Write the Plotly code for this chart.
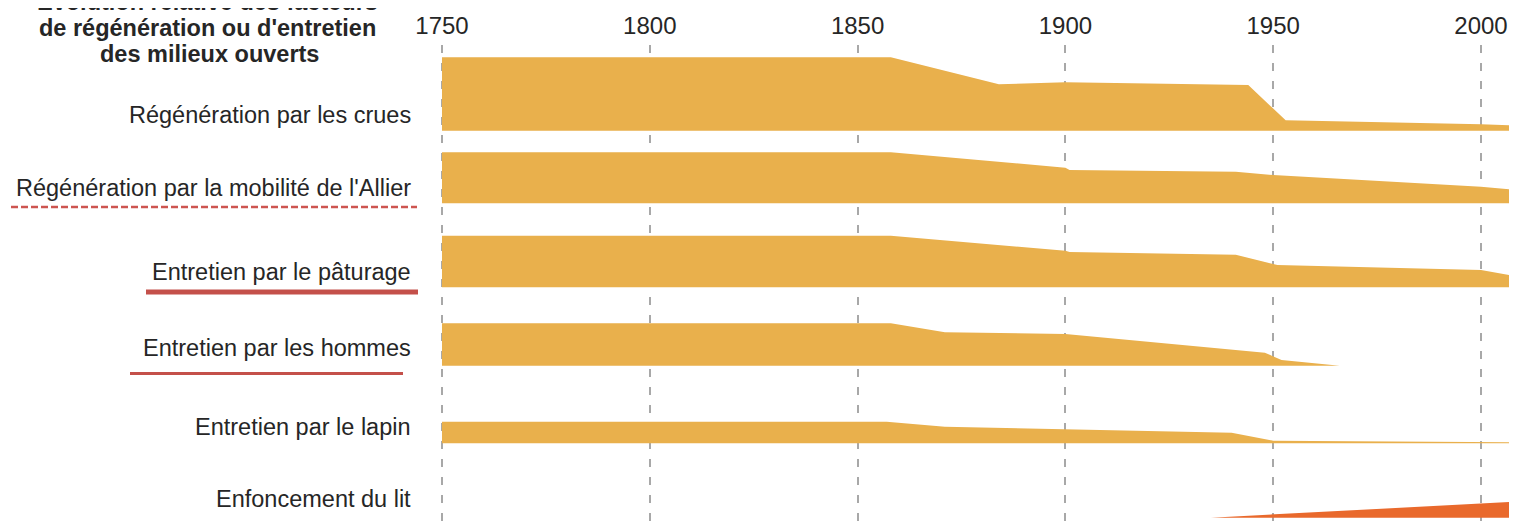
import plotly.graph_objects as go

# ---------------- data ----------------
categories = [
    "Régénération par les crues",
    "Régénération par la mobilité de l'Allier",
    "Entretien par le pâturage",
    "Entretien par les hommes",
    "Entretien par le lapin",
    "Enfoncement du lit",
]

crues_years = [1750, 1858, 1884, 1900, 1944, 1953, 2000, 2009]
crues_vals = [73.4, 73.4, 46.4, 48.4, 45.7, 10.4, 6.4, 5.0]

mobilite_years = [1750, 1858, 1900, 1901, 1941, 1950, 2000, 2009]
mobilite_vals = [51.0, 51.0, 35.6, 33.3, 31.6, 28.3, 16.6, 13.3]

paturage_years = [1750, 1858, 1900, 1901, 1941, 1950, 1951, 2000, 2009]
paturage_vals = [51.6, 51.6, 36.6, 35.3, 32.6, 24.0, 22.3, 17.3, 10.6]

hommes_years = [1750, 1858, 1871, 1900, 1948, 1952, 1966]
hommes_vals = [42.4, 42.4, 33.4, 31.7, 13.0, 5.7, 0.0]

lapin_years = [1750, 1857, 1871, 1900, 1940, 1950, 2000, 2007]
lapin_vals = [21.6, 21.6, 16.6, 14.0, 10.6, 2.6, 1.3, 1.0]

enfoncement_years = [1935, 2000, 2007]
enfoncement_vals = [0.0, 14.4, 15.7]

tick_years = [1750, 1800, 1850, 1900, 1950, 2000]

title_lines = [
    "Evolution relative des facteurs",
    "de régénération ou d'entretien",
    "des milieux ouverts",
]

# ---------------- layout / style ----------------
PAGE_OFF = 8                      # default body margin of the html page
W, H = 1517 - PAGE_OFF, 528 - PAGE_OFF
ML, MT = 440 - PAGE_OFF, 45 - PAGE_OFF
PLOT_W, PLOT_H = W - ML, H - MT
X0, X1 = 1749.52, 2008.66

row_base = [397.3, 324.7, 240.7, 162.3, 84.7, 10.3]      # band baselines (y units)
label_y = [413, 340, 256, 180, 101, 29]                  # label centres (y units)
band_colors = ["#E9B04C"] * 5 + ["#E9692C"]
FONT = "Liberation Sans, Arial, Helvetica, sans-serif"

series = [
    (crues_years, crues_vals),
    (mobilite_years, mobilite_vals),
    (paturage_years, paturage_vals),
    (hommes_years, hommes_vals),
    (lapin_years, lapin_vals),
    (enfoncement_years, enfoncement_vals),
]

fig = go.Figure()
for (yrs, vals), base, col, name in zip(series, row_base, band_colors, categories):
    xs = list(yrs) + list(yrs)[::-1]
    ys = [base + v for v in vals] + [base] * len(yrs)
    fig.add_trace(go.Scatter(
        x=xs, y=ys, mode="lines", fill="toself",
        fillcolor=col, line=dict(width=0, color=col),
        name=name, showlegend=False, hoverinfo="skip",
    ))

def px_to_paper_x(px):
    return (px - PAGE_OFF - ML) / PLOT_W

def py_to_paper_y(py):
    return (H - (py - PAGE_OFF)) / PLOT_H

annotations = []
for name, ly in zip(categories, label_y):
    annotations.append(dict(
        x=px_to_paper_x(413), xref="paper", y=ly, yref="y",
        text=name, showarrow=False, xanchor="right", yanchor="middle",
        font=dict(family=FONT, size=23.5, color="#262626"),
    ))

title_py = [2.5, 28, 54]
title_px = [207, 207, 210]
for t, py, px in zip(title_lines, title_py, title_px):
    annotations.append(dict(
        x=px_to_paper_x(px), xref="paper", y=py_to_paper_y(py), yref="paper",
        text="<b>" + t + "</b>", showarrow=False, xanchor="center", yanchor="middle",
        font=dict(family=FONT, size=23.5, color="#262626"),
    ))

underline_color = "#C4504A"
shapes = [
    dict(type="line", xref="paper", yref="paper",
         x0=px_to_paper_x(11), x1=px_to_paper_x(417),
         y0=py_to_paper_y(207), y1=py_to_paper_y(207),
         line=dict(color="#CD5550", width=2.5, dash="7px,3px")),
    dict(type="line", xref="paper", yref="paper",
         x0=px_to_paper_x(146), x1=px_to_paper_x(418),
         y0=py_to_paper_y(292), y1=py_to_paper_y(292),
         line=dict(color=underline_color, width=5)),
    dict(type="line", xref="paper", yref="paper",
         x0=px_to_paper_x(130), x1=px_to_paper_x(403),
         y0=py_to_paper_y(373.5), y1=py_to_paper_y(373.5),
         line=dict(color=underline_color, width=3)),
]

fig.update_layout(
    width=W, height=H,
    margin=dict(l=ML, r=0, t=MT, b=0, pad=0),
    paper_bgcolor="white", plot_bgcolor="white",
    annotations=annotations, shapes=shapes,
    xaxis=dict(
        range=[X0, X1], side="top", tickvals=tick_years,
        ticktext=[str(v) for v in tick_years],
        showgrid=True, gridcolor="#A8A8A8", gridwidth=2, griddash="8px,10px",
        zeroline=False, showline=False, ticks="", ticklabelstandoff=5,
        tickfont=dict(family=FONT, size=24, color="#262626"),
        fixedrange=True,
    ),
    yaxis=dict(
        range=[0, PLOT_H], showgrid=False, zeroline=False, showline=False,
        showticklabels=False, ticks="", fixedrange=True,
    ),
)

fig.write_html("out.html")
